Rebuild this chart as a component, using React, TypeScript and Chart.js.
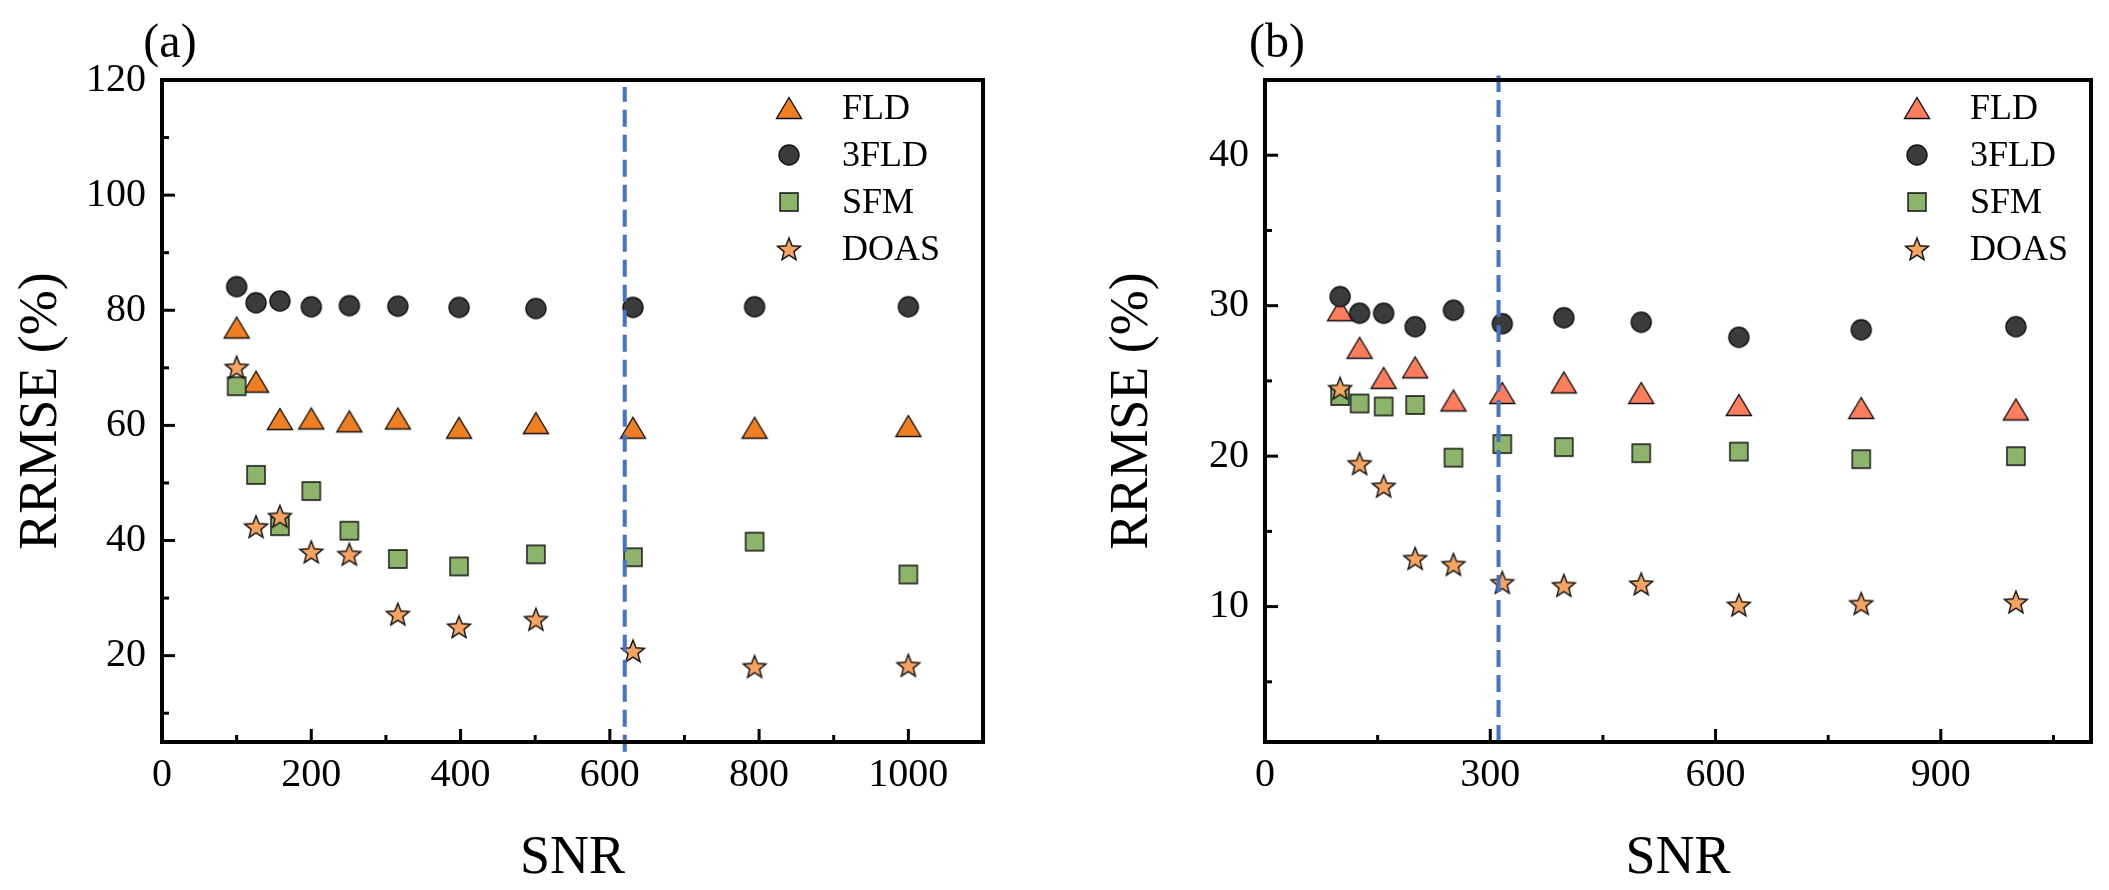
import React, { useEffect, useRef } from 'react'
import { Chart, registerables } from 'chart.js'

Chart.register(...registerables)

const snr = [100, 126, 158, 200, 251, 316, 398, 501, 631, 794, 1000]
const seriesNames = ['FLD', '3FLD', 'SFM', 'DOAS']

// panel (a)
const fldA = [77.0, 67.6, 61.1, 61.2, 60.7, 61.2, 59.6, 60.4, 59.6, 59.6, 59.9]
const fld3A = [84.1, 81.3, 81.6, 80.6, 80.8, 80.7, 80.5, 80.3, 80.5, 80.6, 80.6]
const sfmA = [66.8, 51.4, 42.5, 48.6, 41.7, 36.8, 35.5, 37.6, 37.1, 39.8, 34.1]
const doasA = [70.1, 42.4, 44.2, 38.0, 37.6, 27.2, 25.0, 26.3, 20.8, 18.1, 18.3]
const cutA = 620

// panel (b)
const fldB = [29.7, 27.2, 25.2, 25.9, 23.7, 24.2, 24.9, 24.2, 23.4, 23.2, 23.1]
const fld3B = [30.6, 29.5, 29.5, 28.6, 29.7, 28.8, 29.2, 28.9, 27.9, 28.4, 28.6]
const sfmB = [24.0, 23.5, 23.3, 23.4, 19.9, 20.8, 20.6, 20.2, 20.3, 19.8, 20.0]
const doasB = [24.5, 19.5, 18.0, 13.2, 12.8, 11.6, 11.4, 11.5, 10.1, 10.2, 10.3]
const cutB = 311

const xAxisA = { max: 1100, major: 200, minor: 100 }
const yAxisA = { min: 5, max: 120, major: 20, minor: 10 }
const xAxisB = { max: 1100, major: 300, minor: 150 }
const yAxisB = { min: 1, max: 45, major: 10, minor: 5 }

const FONT = '"Liberation Serif", "Times New Roman", serif'

function marker(shape: string, fill: string) {
    const size = 32
    const c = document.createElement('canvas')
    c.width = size
    c.height = size
    const g = c.getContext('2d')!
    const m = size / 2
    g.fillStyle = fill
    g.strokeStyle = '#111'
    g.lineWidth = 1.4
    g.beginPath()
    if (shape === 'circle') {
        g.arc(m, m, 10, 0, Math.PI * 2)
    } else if (shape === 'square') {
        g.rect(m - 9, m - 9, 18, 18)
    } else if (shape === 'triangle') {
        g.moveTo(m, m - 10.5)
        g.lineTo(m + 12.5, m + 10.5)
        g.lineTo(m - 12.5, m + 10.5)
        g.closePath()
    } else {
        for (let i = 0; i < 10; i++) {
            const ang = -Math.PI / 2 + (i * Math.PI) / 5
            const r = i % 2 ? 5.2 : 12
            const px = m + Math.cos(ang) * r
            const py = m + 1 + Math.sin(ang) * r
            if (i === 0) g.moveTo(px, py)
            else g.lineTo(px, py)
        }
        g.closePath()
    }
    g.fill()
    g.stroke()
    return c
}

const extras = {
    id: 'extras',
    afterDraw(chart: any, _args: any, o: any) {
        const { ctx, chartArea: a, scales } = chart
        ctx.save()
        ctx.strokeStyle = '#000'
        ctx.lineWidth = 4
        ctx.strokeRect(a.left, a.top, a.right - a.left, a.bottom - a.top)

        // inward ticks
        ctx.lineWidth = 3
        scales.x.ticks.forEach((t: any) => {
            if (t.value <= scales.x.min || t.value >= scales.x.max) return
            const px = scales.x.getPixelForValue(t.value)
            const len = t.value % o.xMajor === 0 ? 13 : 7
            ctx.beginPath()
            ctx.moveTo(px, a.bottom)
            ctx.lineTo(px, a.bottom - len)
            ctx.stroke()
        })
        scales.y.ticks.forEach((t: any) => {
            if (t.value <= scales.y.min || t.value >= scales.y.max) return
            const py = scales.y.getPixelForValue(t.value)
            const len = t.value % o.yMajor === 0 ? 13 : 7
            ctx.beginPath()
            ctx.moveTo(a.left, py)
            ctx.lineTo(a.left + len, py)
            ctx.stroke()
        })

        // panel letter
        ctx.fillStyle = '#000'
        ctx.textAlign = 'center'
        ctx.textBaseline = 'middle'
        ctx.font = '48px ' + FONT
        ctx.fillText(o.letter, a.left + o.letterDx, a.top - 36)

        // legend
        ctx.textAlign = 'left'
        ctx.font = '36px ' + FONT
        let row = 0
        chart.data.datasets.forEach((ds: any) => {
            if (!ds.label) return
            const y = a.top + 28 + row * 47
            const img = ds.pointStyle
            ctx.drawImage(img, a.right - o.legendMarker - img.width / 2, y - img.height / 2)
            ctx.fillText(ds.label, a.right - o.legendText, y + 2)
            row++
        })
        ctx.restore()
    },
}

type PanelProps = {
    left: number
    width: number
    area: { left: number; right: number; top: number; bottom: number }
    series: number[][]
    colors: string[]
    cut: number
    cutSpan: number[]
    xAxis: { max: number; major: number; minor: number }
    yAxis: { min: number; max: number; major: number; minor: number }
    letter: string
    letterDx: number
    titlePad: number
    legendMarker: number
    legendText: number
}

const HEIGHT = 890

function Panel(p: PanelProps) {
    const ref = useRef<HTMLCanvasElement | null>(null)

    useEffect(() => {
        if (!ref.current) return
        const shapes = ['triangle', 'circle', 'square', 'star']
        const datasets: any[] = [
            {
                label: '',
                data: [
                    { x: p.cut, y: p.cutSpan[0] },
                    { x: p.cut, y: p.cutSpan[1] },
                ],
                showLine: true,
                borderColor: '#4472C4',
                borderWidth: 4,
                borderDash: [17, 8],
                pointRadius: 0,
                clip: false,
                order: 0,
            },
        ]
        p.series.forEach((ys, i) => {
            datasets.push({
                label: seriesNames[i],
                data: snr.map((x, j) => ({ x, y: ys[j] })),
                pointStyle: marker(shapes[i], p.colors[i]),
                pointRadius: 12,
                pointHoverRadius: 12,
                order: 4 - i,
            })
        })

        const tickFont = { family: FONT, size: 40, lineHeight: 1.2 }
        const titleFont = { family: FONT, size: 54, lineHeight: 1 }

        const chart = new Chart(ref.current, {
            type: 'scatter',
            data: { datasets },
            plugins: [extras],
            options: {
                animation: false,
                responsive: false,
                maintainAspectRatio: false,
                events: [],
                layout: {
                    padding: { left: 0, top: p.area.top, right: p.width - p.area.right, bottom: 0 },
                },
                plugins: {
                    legend: { display: false },
                    tooltip: { enabled: false },
                    extras: {
                        xMajor: p.xAxis.major,
                        yMajor: p.yAxis.major,
                        letter: p.letter,
                        letterDx: p.letterDx,
                        legendMarker: p.legendMarker,
                        legendText: p.legendText,
                    },
                } as any,
                scales: {
                    x: {
                        type: 'linear',
                        min: 0,
                        max: p.xAxis.max,
                        grid: { display: false, drawTicks: false },
                        border: { display: false },
                        ticks: {
                            stepSize: p.xAxis.minor,
                            autoSkip: false,
                            maxRotation: 0,
                            minRotation: 0,
                            includeBounds: false,
                            padding: 9,
                            color: '#000',
                            font: tickFont,
                            callback: (v: any) => (v % p.xAxis.major === 0 ? String(v) : ''),
                        },
                        title: {
                            display: true,
                            text: 'SNR',
                            color: '#000',
                            font: titleFont,
                            padding: { top: 0, bottom: 4 },
                        },
                        afterFit: (s: any) => {
                            s.height = HEIGHT - p.area.bottom
                        },
                    },
                    y: {
                        type: 'linear',
                        min: p.yAxis.min,
                        max: p.yAxis.max,
                        grid: { display: false, drawTicks: false },
                        border: { display: false },
                        ticks: {
                            stepSize: p.yAxis.minor,
                            autoSkip: false,
                            includeBounds: false,
                            padding: 16,
                            color: '#000',
                            font: tickFont,
                            callback: (v: any) => (v % p.yAxis.major === 0 ? String(v) : ''),
                        },
                        title: {
                            display: true,
                            text: 'RRMSE (%)',
                            color: '#000',
                            font: titleFont,
                            padding: { top: p.titlePad, bottom: 0 },
                        },
                        afterFit: (s: any) => {
                            s.width = p.area.left
                        },
                    },
                },
            } as any,
        })
        return () => chart.destroy()
    }, [])

    return (
        <canvas
            ref={ref}
            width={p.width}
            height={HEIGHT}
            style={{ position: 'absolute', left: p.left, top: 0, width: p.width, height: HEIGHT }}
        />
    )
}

export default function App() {
    return (
        <div style={{ position: 'absolute', left: 0, top: 0, width: 2109, height: HEIGHT, background: '#fff' }}>
            <Panel
                left={0}
                width={1060}
                area={{ left: 162, right: 983, top: 80, bottom: 742 }}
                series={[fldA, fld3A, sfmA, doasA]}
                colors={['#F07F22', '#3B3B3B', '#8DB46B', '#F5A462']}
                cut={cutA}
                cutSpan={[3.3, 118.8]}
                xAxis={xAxisA}
                yAxis={yAxisA}
                letter="(a)"
                letterDx={8}
                titlePad={15}
                legendMarker={194}
                legendText={141}
            />
            <Panel
                left={1080}
                width={1029}
                area={{ left: 185, right: 1011, top: 80, bottom: 742 }}
                series={[fldB, fld3B, sfmB, doasB]}
                colors={['#FD7E5E', '#3B3B3B', '#8DB46B', '#F5A462']}
                cut={cutB}
                cutSpan={[1.0, 45.3]}
                xAxis={xAxisB}
                yAxis={yAxisB}
                letter="(b)"
                letterDx={12}
                titlePad={26}
                legendMarker={174}
                legendText={121}
            />
        </div>
    )
}
